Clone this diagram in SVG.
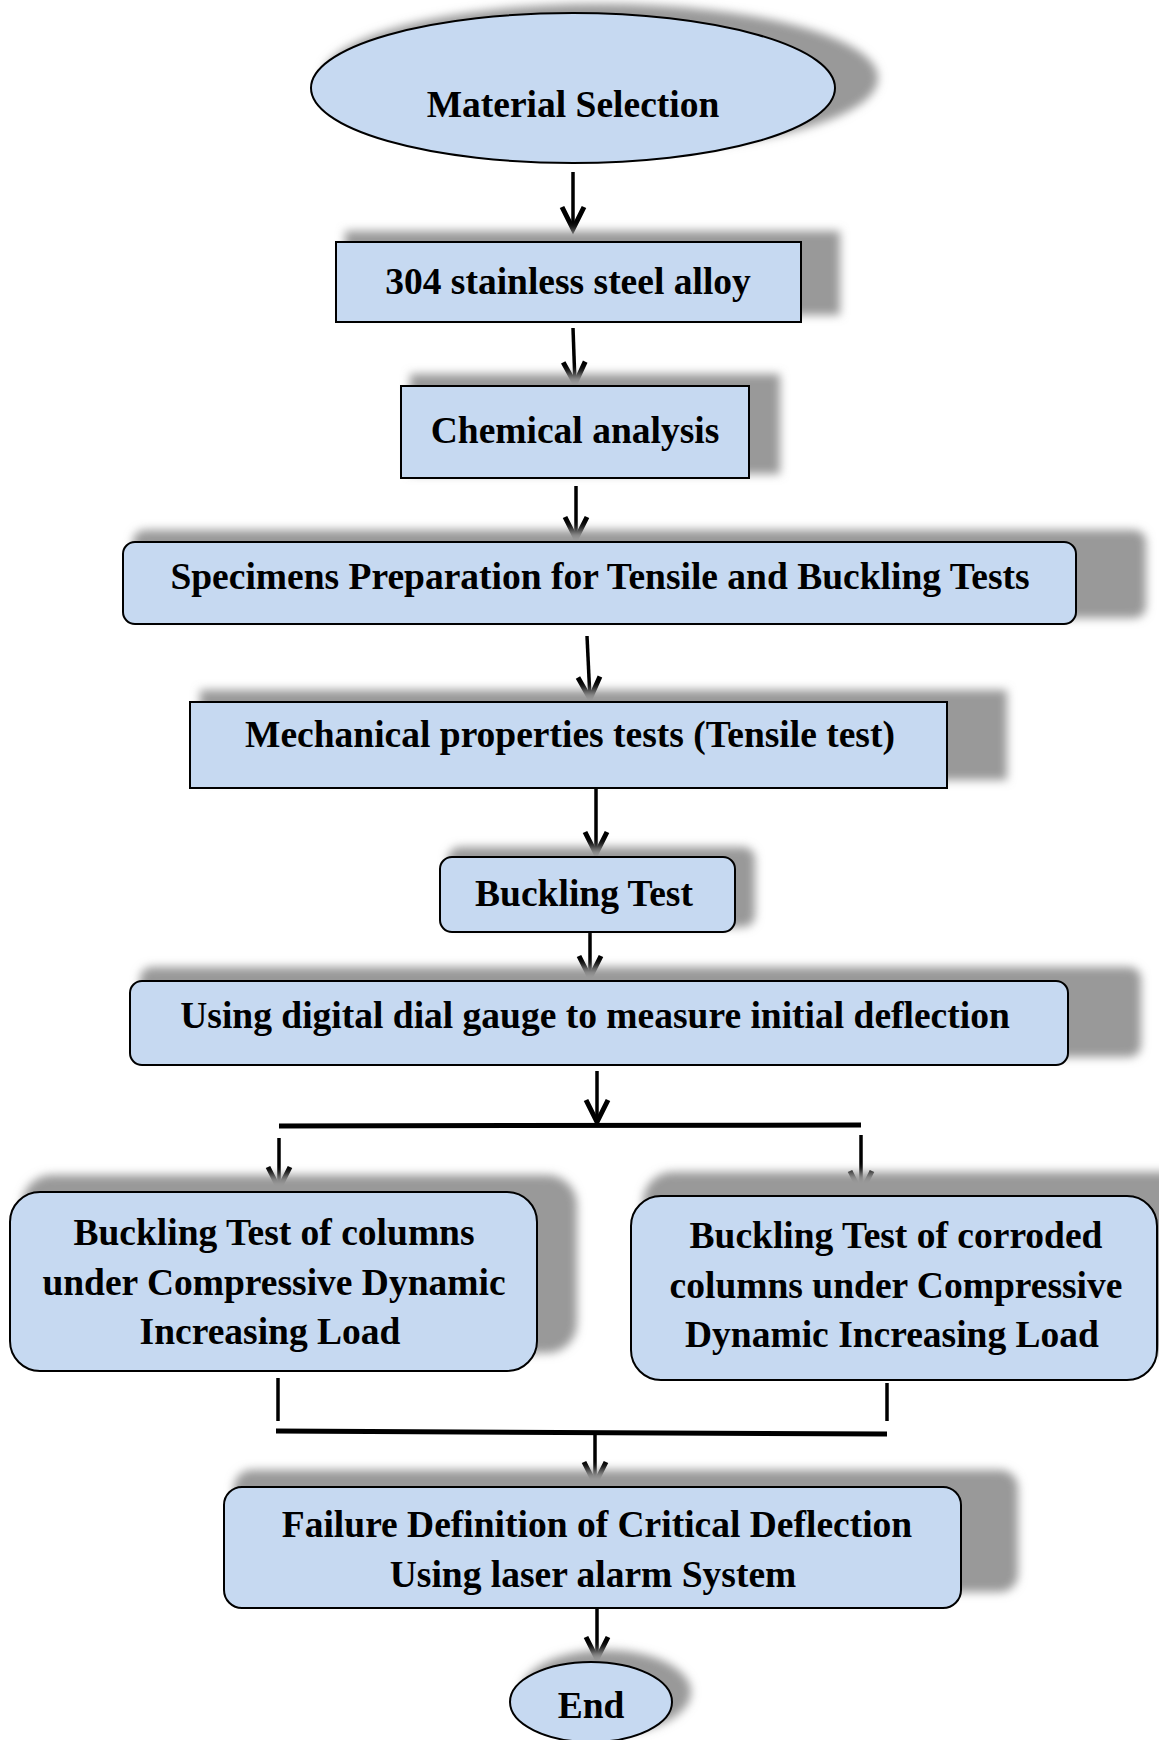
<svg xmlns="http://www.w3.org/2000/svg" width="1159" height="1740" viewBox="0 0 1159 1740">
<style>
.node{fill:#C6D9F1;stroke:#000;stroke-width:2}
.sh{fill:#999;filter:url(#blur)}
.t{font-family:"Liberation Serif","Times New Roman",serif;font-weight:bold;font-size:37.5px;fill:#000;text-anchor:middle}
.c{stroke:#000;stroke-width:3.5;fill:none}
.a{marker-end:url(#arr)}
.bar{stroke:#000;stroke-width:5;fill:none}
</style>
<defs>
<filter id="blur" x="-20%" y="-30%" width="140%" height="160%"><feGaussianBlur stdDeviation="5"/></filter>
<marker id="arr" markerUnits="userSpaceOnUse" markerWidth="34" markerHeight="34" refX="25" refY="14" orient="auto" viewBox="0 0 34 28" overflow="visible"><path d="M3,3 L25,14 L3,25" fill="none" stroke="#000" stroke-width="5" stroke-linejoin="miter" stroke-linecap="butt"/></marker>
</defs>
<rect width="1159" height="1740" fill="#fff"/>

<g id="connectors">
<line class="c a" x1="573" y1="172" x2="573" y2="229"/>
<line class="c a" x1="573" y1="328" x2="575" y2="384"/>
<line class="c a" x1="576" y1="486" x2="576" y2="539"/>
<line class="c a" x1="587" y1="636" x2="590" y2="699"/>
<line class="c a" x1="596" y1="786" x2="596" y2="854"/>
<line class="c a" x1="590" y1="933" x2="590" y2="978"/>
<line class="c a" x1="597" y1="1071" x2="597" y2="1122"/>
<line class="bar" x1="279" y1="1126" x2="861" y2="1125"/>
<line class="c a" x1="279" y1="1138" x2="279" y2="1189"/>
<line class="c a" x1="861" y1="1135" x2="861" y2="1193"/>
<line class="c" x1="278" y1="1378" x2="278" y2="1421"/>
<line class="c" x1="887" y1="1383" x2="887" y2="1421"/>
<line class="bar" x1="276" y1="1431" x2="887" y2="1434"/>
<line class="c a" x1="595" y1="1434" x2="595" y2="1484"/>
<line class="c a" x1="597" y1="1608" x2="597" y2="1659"/>
</g>

<g id="material-selection">
<ellipse class="sh" cx="600" cy="78" rx="278" ry="74"/>
<ellipse class="node" cx="573" cy="88" rx="262" ry="75"/>
<text class="t" x="573" y="117">Material Selection</text>
</g>

<g id="stainless-steel">
<rect class="sh" x="345" y="231" width="495" height="84"/>
<rect class="node" x="336" y="242" width="465" height="80"/>
<text class="t" x="568" y="294">304 stainless steel alloy</text>
</g>

<g id="chemical-analysis">
<rect class="sh" x="410" y="374" width="370" height="100"/>
<rect class="node" x="401" y="386" width="348" height="92"/>
<text class="t" x="575" y="443">Chemical analysis</text>
</g>

<g id="specimens-preparation">
<rect class="sh" x="133" y="530" width="1013" height="88" rx="12"/>
<rect class="node" x="123" y="542" width="953" height="82" rx="12"/>
<text class="t" x="600" y="589">Specimens Preparation for Tensile and Buckling Tests</text>
</g>

<g id="mechanical-tests">
<rect class="sh" x="200" y="690" width="807" height="90"/>
<rect class="node" x="190" y="702" width="757" height="86"/>
<text class="t" x="570" y="747">Mechanical properties tests (Tensile test)</text>
</g>

<g id="buckling-test">
<rect class="sh" x="448" y="847" width="307" height="80" rx="12"/>
<rect class="node" x="440" y="857" width="295" height="75" rx="12"/>
<text class="t" x="584" y="906">Buckling Test</text>
</g>

<g id="dial-gauge">
<rect class="sh" x="140" y="967" width="1001" height="90" rx="12"/>
<rect class="node" x="130" y="981" width="938" height="84" rx="12"/>
<text class="t" x="595" y="1028">Using digital dial gauge to measure initial deflection</text>
</g>

<g id="buckling-columns">
<rect class="sh" x="22" y="1175" width="555" height="178" rx="30"/>
<rect class="node" x="10" y="1192" width="527" height="179" rx="30"/>
<text class="t" x="274" y="1245">Buckling Test of columns</text>
<text class="t" x="274" y="1295">under Compressive Dynamic</text>
<text class="t" x="270" y="1344">Increasing Load</text>
</g>

<g id="buckling-corroded">
<rect class="sh" x="643" y="1172" width="560" height="180" rx="30"/>
<rect class="node" x="631" y="1196" width="526" height="184" rx="30"/>
<text class="t" x="896" y="1248">Buckling Test of corroded</text>
<text class="t" x="896" y="1298">columns under Compressive</text>
<text class="t" x="892" y="1347">Dynamic Increasing Load</text>
</g>

<g id="failure-definition">
<rect class="sh" x="234" y="1470" width="784" height="122" rx="18"/>
<rect class="node" x="224" y="1487" width="737" height="121" rx="18"/>
<text class="t" x="597" y="1537">Failure Definition of Critical Deflection</text>
<text class="t" x="593" y="1587">Using laser alarm System</text>
</g>

<g id="end">
<ellipse class="sh" cx="606" cy="1692" rx="85" ry="42"/>
<ellipse class="node" cx="591" cy="1702" rx="81" ry="40"/>
<text class="t" x="591" y="1718">End</text>
</g>
</svg>
